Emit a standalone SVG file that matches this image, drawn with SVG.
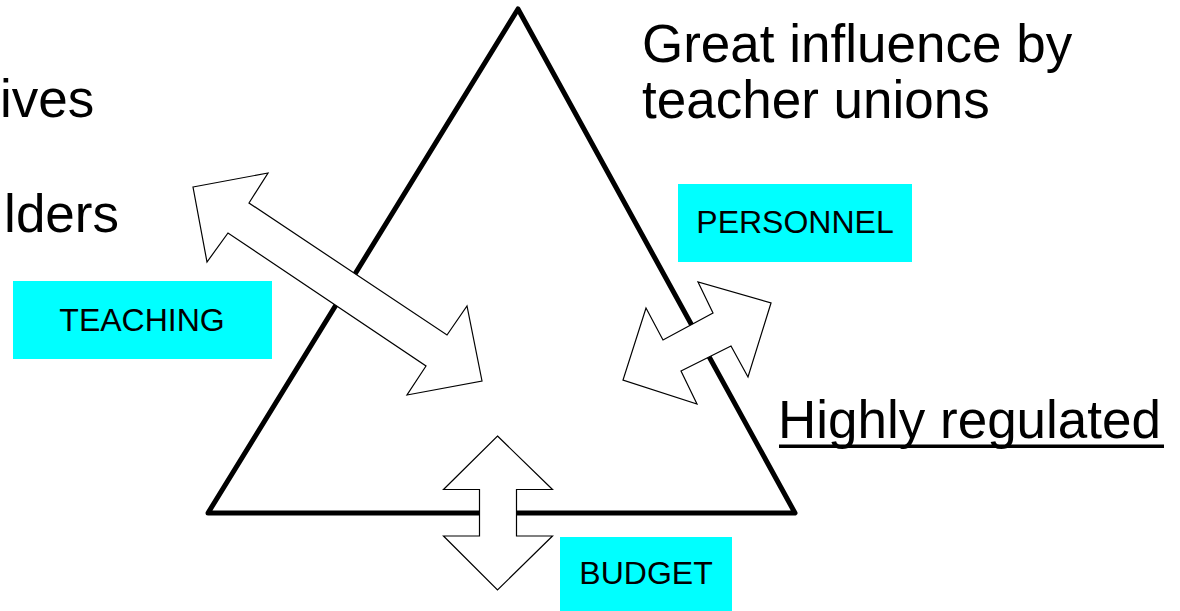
<svg xmlns="http://www.w3.org/2000/svg" width="1180" height="611" viewBox="0 0 1180 611">
  <style>
    .big { font-family: "Liberation Sans", Arial, sans-serif; font-size: 53px; fill: #000; }
    .lbl { font-family: "Liberation Sans", Arial, sans-serif; font-size: 32px; fill: #000; text-anchor: middle; }
    .box { fill: #00FFFF; stroke: none; }
    .arrow { fill: #FFFFFF; stroke: #000; stroke-width: 1.2; stroke-linejoin: miter; }
    .tri { fill: none; stroke: #000; stroke-width: 5; stroke-linejoin: round; }
  </style>
  <rect width="1180" height="611" fill="#FFFFFF"/>

  <g id="side-text">
    <text class="big" x="0" y="117">ives</text>
    <text class="big" x="119" y="232" text-anchor="end">lders</text>
  </g>

  <g id="unions-note">
    <text class="big" x="642" y="62">Great influence by</text>
    <text class="big" x="642" y="118">teacher unions</text>
  </g>

  <g id="regulated-note">
    <text class="big" x="778" y="438">Highly regulated</text>
    <rect x="779" y="444.5" width="385" height="3.5" fill="#000"/>
  </g>

  <g id="triangle">
    <polygon class="tri" points="518,9 795,513 208,513"/>
  </g>

  <g id="connectors">
    <polygon id="arrow-teaching" class="arrow" points="193,187 268,173 249,203 447,335 467,306 482,381 407,395 426,366 228,233 207,262"/>
    <polygon id="arrow-personnel" class="arrow" points="771,303 748,377 731,346 681,371 697,404 623,380 646,308 663,340 713,313 698,282"/>
    <polygon id="arrow-budget" class="arrow" points="497.5,436 552.5,489.5 516.5,489.5 516.5,536 552.5,536 497.5,590 443.5,536 479.5,536 479.5,489.5 443.5,489.5"/>
  </g>

  <g id="teaching">
    <rect class="box" x="13" y="281" width="259" height="78"/>
    <text class="lbl" x="142" y="331">TEACHING</text>
  </g>

  <g id="personnel">
    <rect class="box" x="678" y="184" width="234" height="78"/>
    <text class="lbl" x="795" y="233">PERSONNEL</text>
  </g>

  <g id="budget">
    <rect class="box" x="560" y="537" width="172" height="74"/>
    <text class="lbl" x="646" y="584">BUDGET</text>
  </g>
</svg>
